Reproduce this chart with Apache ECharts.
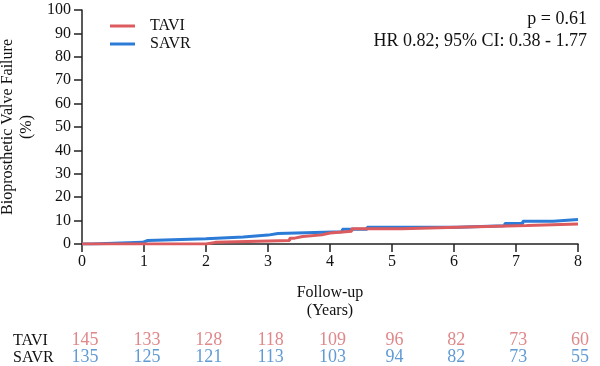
<!DOCTYPE html>
<html>
<head>
<meta charset="utf-8">
<script src="https://cdn.jsdelivr.net/npm/echarts@6/dist/echarts.min.js"></script>
<style>
  html, body { margin: 0; padding: 0; background: #fff; }
  #chart { width: 600px; height: 366px; }
</style>
</head>
<body>
<div id="chart"></div>
<script>
// cumulative incidence, [years, %]
const taviCurve = [
  [0, 0], [2.0, 0.7], [2.15, 1.5], [3.35, 2.5], [3.43, 3.2], [3.56, 3.9],
  [3.87, 4.7], [4.0, 5.4], [4.35, 6.5], [5.16, 7.2], [6.05, 7.9],
  [7.18, 8.5], [8.0, 8.5]
];
const savrCurve = [
  [0, 0], [0.16, 0.7], [0.98, 1.5], [1.06, 2.2], [2.0, 3.0], [2.6, 3.8],
  [3.0, 4.5], [3.16, 5.2], [4.2, 6.3], [4.6, 7.2], [6.05, 7.8],
  [6.82, 8.8], [7.11, 9.7], [7.6, 10.5], [8.0, 10.5]
];
const riskYears = [0, 1, 2, 3, 4, 5, 6, 7, 8];
const taviAtRisk = [145, 133, 128, 118, 109, 96, 82, 73, 60];
const savrAtRisk = [135, 125, 121, 113, 103, 94, 82, 73, 55];
const groups = ["TAVI", "SAVR"];

const RED = "#dc5b5e";
const BLUE = "#2c7bd6";
const FONT = "Liberation Serif";

const chart = echarts.init(document.getElementById("chart"));

const riskData = (name, vals) => riskYears.map((y, i) => [y, name, vals[i]]);

const option = {
  animation: false,
  textStyle: { fontFamily: FONT },
  legend: {
    data: groups,
    orient: "vertical",
    left: 105,
    top: 13,
    itemWidth: 25,
    itemHeight: 3,
    itemGap: 2,
    icon: "rect",
    textStyle: { fontFamily: FONT, fontSize: 16, color: "#111", padding: [0, 0, 0, 10] }
  },
  graphic: [
    {
      type: "text", right: 13, top: 10,
      style: { text: "p = 0.61", font: "18px " + FONT, fill: "#111" }
    },
    {
      type: "text", right: 13, top: 32,
      style: { text: "HR 0.82; 95% CI: 0.38 - 1.77", font: "18px " + FONT, fill: "#111" }
    }
  ],
  grid: [
    { left: 82, right: 22, top: 10, bottom: 122, outerBoundsMode: "none" },
    { left: 85, right: 20, top: 332, height: 34, outerBoundsMode: "none" }
  ],
  xAxis: [
    {
      gridIndex: 0, type: "value", min: 0, max: 8, interval: 1,
      name: "Follow-up\n(Years)", nameLocation: "middle", nameGap: 40,
      nameTextStyle: { fontFamily: FONT, fontSize: 16, color: "#111", lineHeight: 18 },
      axisLine: { lineStyle: { color: "#222", width: 1.5 } },
      axisTick: { length: 8, lineStyle: { color: "#222", width: 1.5 } },
      axisLabel: { fontFamily: FONT, fontSize: 16, color: "#111", margin: 10 },
      splitLine: { show: false }
    },
    {
      gridIndex: 1, type: "value", min: 0, max: 8, interval: 1,
      show: false
    }
  ],
  yAxis: [
    {
      gridIndex: 0, type: "value", min: 0, max: 100, interval: 10,
      name: "Bioprosthetic Valve Failure\n(%)", nameLocation: "middle", nameGap: 39,
      nameTextStyle: { fontFamily: FONT, fontSize: 16, color: "#111", lineHeight: 19 },
      axisLine: { show: true, lineStyle: { color: "#222", width: 1.5 } },
      axisTick: { show: true, length: 8, lineStyle: { color: "#222", width: 1.5 } },
      axisLabel: { fontFamily: FONT, fontSize: 16, color: "#111", margin: 11 },
      splitLine: { show: false }
    },
    {
      gridIndex: 1, type: "category", data: groups, inverse: true,
      axisLine: { show: false }, axisTick: { show: false }, splitLine: { show: false },
      axisLabel: { fontFamily: FONT, fontSize: 16, color: "#111", align: "left",
        margin: 72, interval: 0 }
    }
  ],
  series: [
    {
      name: "SAVR", type: "line", step: "end", data: savrCurve,
      xAxisIndex: 0, yAxisIndex: 0, showSymbol: false,
      lineStyle: { color: BLUE, width: 3 }, itemStyle: { color: BLUE }, z: 2
    },
    {
      name: "TAVI", type: "line", step: "end", data: taviCurve,
      xAxisIndex: 0, yAxisIndex: 0, showSymbol: false,
      lineStyle: { color: RED, width: 3 }, itemStyle: { color: RED }, z: 3
    },
    {
      type: "scatter", xAxisIndex: 1, yAxisIndex: 1, symbolSize: 0,
      data: riskData("TAVI", taviAtRisk),
      label: { show: true, position: "inside", formatter: p => p.value[2],
        fontFamily: FONT, fontSize: 18, color: "#d7696b" }
    },
    {
      type: "scatter", xAxisIndex: 1, yAxisIndex: 1, symbolSize: 0,
      data: riskData("SAVR", savrAtRisk),
      label: { show: true, position: "inside", formatter: p => p.value[2],
        fontFamily: FONT, fontSize: 18, color: "#3a82c9" }
    }
  ]
};

chart.setOption(option);
</script>
</body>
</html>
